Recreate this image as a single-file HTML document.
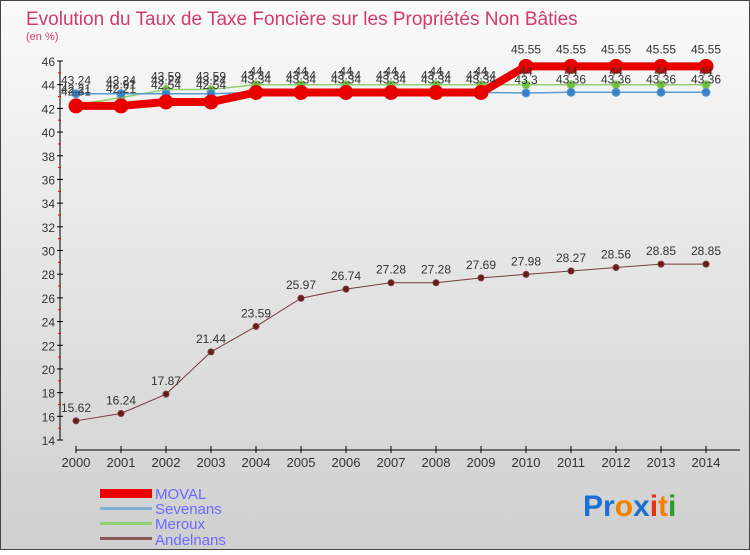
<!DOCTYPE html>
<html><head><meta charset="utf-8"><style>
body{margin:0;width:750px;height:550px;overflow:hidden;font-family:"Liberation Sans",sans-serif}
svg text{font-family:"Liberation Sans",sans-serif}
</style></head><body>
<svg id="c" width="750" height="550" xmlns="http://www.w3.org/2000/svg">
<defs><linearGradient id="bg" x1="0" y1="0" x2="0" y2="1"><stop offset="0" stop-color="#fafafa"/><stop offset="1" stop-color="#cfcfcf"/></linearGradient></defs>
<rect x="0.5" y="0.5" width="749" height="549" fill="url(#bg)" stroke="#444"/>
<text x="26" y="25" font-size="19" fill="#d23a6b">Evolution du Taux de Taxe Foncière sur les Propriétés Non Bâties</text>
<text x="26" y="40" font-size="11" fill="#d23a6b">(en %)</text>
<g id="axes"></g><g id="series"></g><g id="labels"></g>
<g>
<rect x="100" y="489" width="52" height="9" fill="#e00"/>
<text x="155" y="499" font-size="15" fill="#6a6aff">MOVAL</text>
<rect x="100" y="507" width="52" height="3" fill="#7fb0d0"/>
<text x="155" y="514" font-size="15" fill="#6a6aff">Sevenans</text>
<rect x="100" y="522" width="52" height="3" fill="#90d070"/>
<text x="155" y="529" font-size="15" fill="#6a6aff">Meroux</text>
<rect x="100" y="537" width="52" height="3" fill="#8a5a5a"/>
<text x="155" y="545" font-size="15" fill="#6a6aff">Andelnans</text>
</g>
<g font-size="30" font-weight="bold">
<text x="583" y="516"><tspan fill="#1a6fd0">Pr</tspan><tspan fill="#f08000">o</tspan><tspan fill="#1a6fd0">x</tspan><tspan fill="#e03010">i</tspan><tspan fill="#f08000">t</tspan><tspan fill="#2a9a30">i</tspan></text>
</g>
</svg>
<script>
const years=["2000","2001","2002","2003","2004","2005","2006","2007","2008","2009","2010","2011","2012","2013","2014"];
const moval=[42.21,42.21,42.54,42.54,43.34,43.34,43.34,43.34,43.34,43.34,45.55,45.55,45.55,45.55,45.55];
const sevenans=[43.24,43.24,43.24,43.24,43.34,43.34,43.34,43.34,43.34,43.34,43.3,43.36,43.36,43.36,43.36];
const meroux=[42.31,42.91,43.59,43.59,44,44,44,44,44,44,44,44,44,44,44];
const andelnans=[15.62,16.24,17.87,21.44,23.59,25.97,26.74,27.28,27.28,27.69,27.98,28.27,28.56,28.85,28.85];
const yTicks=[14,16,18,20,22,24,26,28,30,32,34,36,38,40,42,44,46];
const NS="http://www.w3.org/2000/svg";
function X(i){return 76+i*45;}
function Y(v){return 440-(v-14)*(379/32);}
function mk(tag,attrs,parent){const e=document.createElementNS(NS,tag);for(const k in attrs)e.setAttribute(k,attrs[k]);parent.appendChild(e);return e;}
const ax=document.getElementById('axes'),sg=document.getElementById('series'),lg=document.getElementById('labels');
let a=mk('line',{x1:60,y1:Y(46),x2:60,y2:Y(14),stroke:'#000'},ax);

a=mk('line',{x1:76,y1:450,x2:740,y2:450,stroke:'#000'},ax);

yTicks.forEach((t,i)=>{
  const tk=mk('line',{x1:57,x2:63,y1:Y(t),y2:Y(t),stroke:'#000'},ax);
  
  if(i<yTicks.length-1){const m=mk('line',{x1:58,x2:61,y1:Y(t+1),y2:Y(t+1),stroke:'#e00'},ax);
  }
  const tx=mk('text',{x:55,y:Y(t)+5,'font-size':12,'text-anchor':'end',fill:'#333'},ax);tx.textContent=t;
  
});
years.forEach((yr,i)=>{
  const tk=mk('line',{x1:X(i),x2:X(i),y1:446,y2:453,stroke:'#000'},ax);
  
  const tx=mk('text',{x:X(i),y:467,'font-size':13,'text-anchor':'middle',fill:'#333'},ax);tx.textContent=yr;
  
});
function series(vals,name,color,w,r,dot,dy){
  const pts=vals.map((v,i)=>X(i)+','+Y(v)).join(' ');
  const pl=mk('polyline',{points:pts,fill:'none',stroke:color,'stroke-width':w},sg);
  
  vals.forEach((v,i)=>{
    const c=mk('circle',{cx:X(i),cy:Y(v),r:r,fill:dot,stroke:color,'stroke-width':1},sg);
    
    const t=mk('text',{x:X(i),y:Y(v)+dy,'font-size':12,'text-anchor':'middle',fill:'#333'},lg);t.textContent=v;
    
  });
}
series(andelnans,'andelnans','#7a3a3a',1,3,'#6a1a1a',-9);
series(meroux,'meroux','#90d070',1.5,4,'#70c040',-9);
series(sevenans,'sevenans','#5a9ad0',1.5,4,'#3a80c8',-9);
series(moval,'moval','#e80000',8,7,'#e80000',-13);
</script>
</body></html>
